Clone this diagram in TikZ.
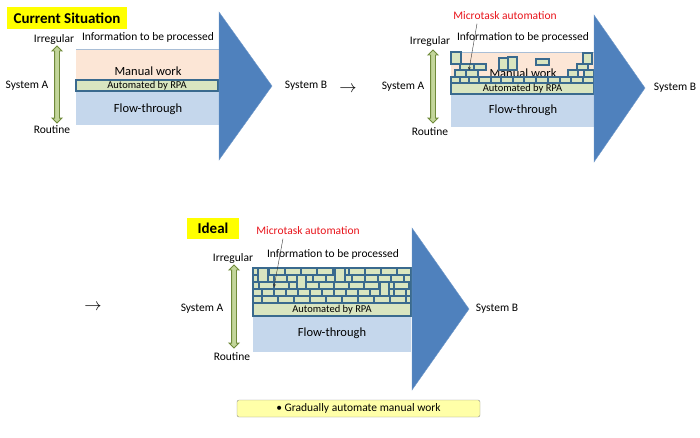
\documentclass[tikz,border=0pt]{standalone}
\usepackage{fontspec}
\setmainfont{Carlito}
\usetikzlibrary{arrows.meta}
\usetikzlibrary{shapes.arrows}
\usetikzlibrary{positioning}

\definecolor{titleyellow}{HTML}{FFFF00}
\definecolor{noteyellow}{HTML}{FFFFA8}
\definecolor{manualpink}{HTML}{FCE6D6}
\definecolor{flowblue}{HTML}{C5D7EC}
\definecolor{tilegreen}{HTML}{D9E5C0}
\definecolor{tileblue}{HTML}{3A6A8E}
\definecolor{sysblue}{HTML}{4F81BD}
\definecolor{arrowgreen}{HTML}{C3D69B}
\definecolor{arrowborder}{HTML}{6F8A3A}
\definecolor{topline}{HTML}{A9BED6}
\definecolor{microred}{HTML}{E8141B}

\begin{document}
\begin{tikzpicture}[
      x = 1pt, y = -1pt,
      >={Stealth[length=3pt, width=3pt]},
      font = \fontsize{11.5}{13}\selectfont,
      title/.style = {
        fill = titleyellow, inner sep = 0pt,
        font = \fontsize{15}{17}\selectfont\bfseries
      },
      updown/.style = {
        double arrow, draw = arrowborder, fill = arrowgreen,
        rotate = 90, inner sep = 2pt, line width = .9pt,
        double arrow head extend = 2.5pt
      },
      tile/.style = { draw = tileblue, fill = tilegreen, line width = 1.2pt },
      rpabox/.style = {
        draw = tileblue, fill = tilegreen, line width = 1.1pt,
        inner sep = 0pt, font = \fontsize{10.5}{12}\selectfont
      },
      bigtext/.style = { font = \fontsize{12.5}{14}\selectfont },
      micro/.style = { text = microred },
      nextarrow/.style = { font = \fontsize{17}{19}\selectfont },
      system/.style = { fill = sysblue, draw = sysblue!80!white },
    ]
    \useasboundingbox (0,0) rectangle (700,437);

    % ---- current situation
    \node[title, minimum width = 120pt, minimum height = 22pt] (cur) at (67,18) {Current Situation};
    \node (irr1) at (54,39) {Irregular};
    \node (info1) at (148,37) {Information to be processed};
    \node (sysA1) at (27,86) {System A};
    \node (rout1) at (52,130) {Routine};
    \node[updown, minimum height = 77pt] (ud1) at (57,84.5) {};

    \fill[manualpink] (76,49) rectangle (219,80);
    \draw[topline] (76,49) -- (219,49);
    \fill[flowblue] (76,91) rectangle (219,125);
    \node[bigtext] (man1) at (148,71) {Manual work};
    \node[rpabox, minimum width = 142pt, minimum height = 11pt] (rpa1) at (147,85.5) {Automated by RPA};
    \node[bigtext] (flow1) at (148,109) {Flow-through};
    \draw[system] (219,12) -- (272,86) -- (219,160) -- cycle;
    \node (sysB1) at (306,86) {System B};

    \node[nextarrow] (next1) at (348,89) {$\rightarrow$};

    % ---- after microtask automation
    \node[micro] (mt2) at (505,16) {Microtask automation};
    \node (irr2) at (430,41) {Irregular};
    \node (info2) at (523,37) {Information to be processed};
    \node (sysA2) at (403,87) {System A};
    \node (rout2) at (430,132) {Routine};
    \node[updown, minimum height = 73pt] (ud2) at (433,86.5) {};

    \fill[manualpink] (451,52) rectangle (594,83);
    \draw[topline] (451,52) -- (594,52);
    \fill[flowblue] (451,94) rectangle (594,127);
    \node[bigtext] (man2) at (523,73) {Manual work};
    \foreach \x/\y/\w/\h in {
        451/77/9/6, 460/77/9/6, 469/77/10/6, 479/77/12/6, 491/77/10/6,
        501/77/12/6, 513/77/11/6, 524/77/12/6, 536/77/12/6, 548/77/12/6,
        560/77/11/6, 571/77/12/6, 583/77/11/6,
        455/70/11/7, 466/70/12/7, 568/70/10/7, 584/70/10/7,
        460/64/14/6, 474/64/12/6, 577/64/11/6,
        451/52/10/12, 499/58/9/12, 508/57/9/13, 536/59/13/6, 583/53/9/11} {
      \draw[tile] (\x,\y) rectangle +(\w,\h);
    }
    \node[rpabox, minimum width = 143pt, minimum height = 11pt] (rpa2) at (522.5,88.5) {Automated by RPA};
    \node[bigtext] (flow2) at (523,110) {Flow-through};
    \coordinate (tip2) at (469,70);
    \draw[->, black!80] ([xshift=-28pt]mt2.south) -- (tip2);
    \draw[system] (594,15) -- (645,88) -- (594,162) -- cycle;
    \node (sysB2) at (675,88) {System B};

    % ---- ideal
    \node[nextarrow] (next2) at (93,307) {$\rightarrow$};
    \node[title, minimum width = 52pt, minimum height = 21pt] (ideal) at (213,228.5) {Ideal};
    \node[micro] (mt3) at (308,231) {Microtask automation};
    \node (irr3) at (233,258) {Irregular};
    \node (info3) at (333,254) {Information to be processed};
    \node (sysA3) at (202,309) {System A};
    \node (rout3) at (232,357) {Routine};
    \node[updown, minimum height = 83pt] (ud3) at (234,306.5) {};

    \fill[flowblue] (253,316) rectangle (411,352);
    \begin{scope}
      \clip (253,268) rectangle (411,303);
      \foreach \y/\w/\o in {268/16/0, 275/13/-5, 282/15/-9, 289/12/-3, 296/16/-7} {
        \foreach \i in {0,...,14} {
          \draw[tile] ({253+\o+\i*\w},\y) rectangle +(\w,7);
        }
      }
      \draw[tile] (258,268) rectangle +(10,14);
      \draw[tile] (297,275) rectangle +(9,14);
      \draw[tile] (335,268) rectangle +(10,14);
      \draw[tile] (380,282) rectangle +(9,14);
    \end{scope}
    \draw[tileblue, line width = 1.2pt] (253,268) rectangle (411,303);
    \node[rpabox, minimum width = 158pt, minimum height = 13pt] (rpa3) at (332,309.5) {Automated by RPA};
    \node[bigtext] (flow3) at (332,333) {Flow-through};
    \coordinate (tip3) at (274,287);
    \draw[->, black!80] ([xshift=-25pt]mt3.south) -- (tip3);
    \draw[system] (412,228) -- (469,309) -- (412,390) -- cycle;
    \node (sysB3) at (497,309) {System B};

    \node[draw = black!45, fill = noteyellow, rounded corners = 2pt,
          minimum width = 243pt, minimum height = 17pt, inner sep = 0pt] (note)
          at (358.5,408.5) {• Gradually automate manual work};
\end{tikzpicture}
\end{document}
